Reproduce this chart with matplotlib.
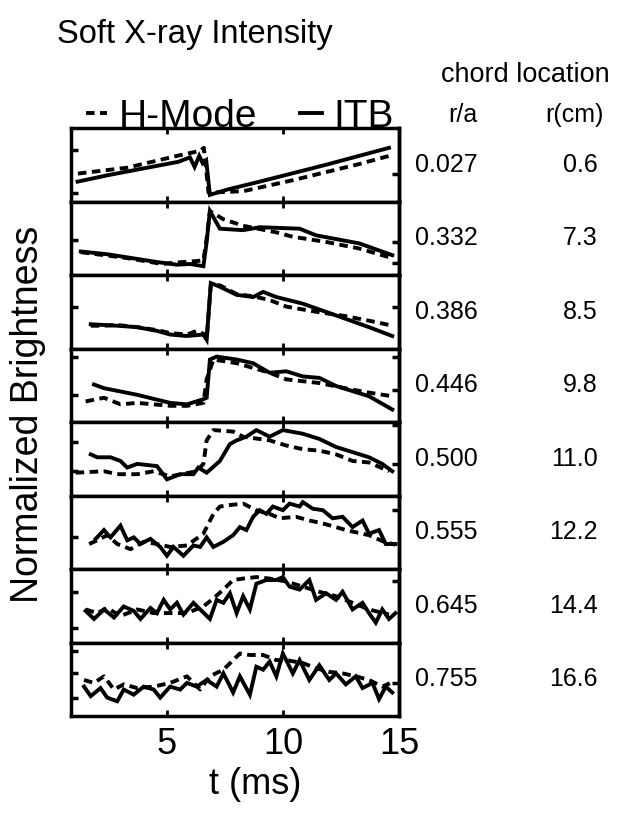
import matplotlib
matplotlib.use("Agg")
import matplotlib.pyplot as plt
from matplotlib import transforms
from matplotlib.lines import Line2D

plt.rcParams['font.family'] = ['Liberation Sans', 'DejaVu Sans']

# chord positions
r_over_a = [0.027, 0.332, 0.386, 0.446, 0.500, 0.555, 0.645, 0.755]
r_cm = [0.6, 7.3, 8.5, 9.8, 11.0, 12.2, 14.4, 16.6]

# normalized brightness per chord, H-mode (dashed) and ITB (solid)
t1_h = [1.18, 3.3, 5.44, 6.44, 6.6, 6.8, 8.29, 10.43, 13.29, 14.57]
b1_h = [0.38, 0.46, 0.62, 0.69, 0.73, 0.12, 0.14, 0.29, 0.51, 0.62]
t1_i = [1.16, 2.5, 4.0, 5.5, 6.0, 6.2, 6.4, 6.55, 6.7, 6.86, 7.58, 9.0, 11.86, 14.57]
b1_i = [0.27, 0.36, 0.45, 0.54, 0.60, 0.47, 0.62, 0.52, 0.56, 0.09, 0.16, 0.27, 0.50, 0.73]

t2_h = [1.30, 3.30, 4.8, 5.44, 6.29, 6.58, 6.72, 6.86, 7.43, 8.29, 9.72, 10.43, 11.86, 13.29, 14.71]
b2_h = [0.31, 0.23, 0.15, 0.17, 0.19, 0.20, 0.50, 0.87, 0.76, 0.67, 0.58, 0.52, 0.45, 0.36, 0.23]
t2_i = [1.30, 2.5, 3.30, 4.5, 5.44, 6.0, 6.58, 6.72, 6.86, 7.29, 8.29, 9.01, 10.72, 11.43, 13.29, 14.71]
b2_i = [0.32, 0.28, 0.24, 0.18, 0.14, 0.15, 0.12, 0.45, 0.87, 0.63, 0.61, 0.65, 0.63, 0.54, 0.43, 0.27]

t3_h = [1.73, 2.30, 2.87, 3.73, 4.58, 5.15, 5.87, 6.29, 6.58, 6.72, 6.90, 7.29, 8.01, 8.72, 9.43, 10.15, 11.43, 12.71, 14.0, 14.71]
b3_h = [0.31, 0.31, 0.32, 0.29, 0.25, 0.21, 0.19, 0.24, 0.20, 0.13, 0.87, 0.86, 0.74, 0.71, 0.66, 0.57, 0.50, 0.44, 0.36, 0.31]
t3_i = [1.73, 2.30, 2.87, 3.73, 4.58, 5.15, 5.87, 6.58, 6.72, 6.90, 7.29, 8.01, 8.72, 9.15, 9.72, 10.86, 12.29, 13.71, 14.71]
b3_i = [0.33, 0.32, 0.31, 0.29, 0.24, 0.19, 0.17, 0.19, 0.12, 0.89, 0.84, 0.73, 0.70, 0.77, 0.70, 0.61, 0.45, 0.29, 0.17]

t4_h = [1.51, 2.30, 3.01, 3.73, 5.15, 5.87, 6.58, 6.72, 7.01, 8.01, 9.43, 10.15, 11.57, 13.0, 13.71, 14.71]
b4_h = [0.28, 0.33, 0.24, 0.26, 0.22, 0.22, 0.26, 0.58, 0.85, 0.80, 0.67, 0.58, 0.53, 0.44, 0.40, 0.35]
t4_i = [1.87, 2.30, 3.73, 5.15, 5.87, 6.58, 6.72, 6.86, 7.15, 8.01, 8.72, 9.43, 10.15, 10.86, 11.57, 12.29, 13.71, 14.71]
b4_i = [0.51, 0.46, 0.37, 0.26, 0.24, 0.31, 0.33, 0.85, 0.89, 0.85, 0.80, 0.67, 0.69, 0.62, 0.60, 0.49, 0.35, 0.17]

t5_h = [1.08, 2.30, 2.87, 3.73, 4.44, 5.15, 6.29, 6.58, 6.72, 7.01, 7.86, 8.29, 9.43, 10.15, 10.86, 11.57, 12.29, 13.0, 13.71, 14.57]
b5_h = [0.31, 0.33, 0.29, 0.29, 0.33, 0.26, 0.33, 0.43, 0.75, 0.89, 0.87, 0.80, 0.75, 0.68, 0.63, 0.61, 0.56, 0.47, 0.45, 0.33]
t5_i = [1.73, 2.01, 2.58, 3.01, 3.30, 3.73, 4.58, 5.01, 5.58, 6.15, 6.36, 6.72, 7.29, 7.72, 8.01, 8.43, 8.86,
        9.43, 10.0, 10.86, 11.57, 12.29, 13.0, 13.71, 14.28, 14.71]
b5_i = [0.56, 0.52, 0.52, 0.47, 0.38, 0.43, 0.40, 0.22, 0.29, 0.29, 0.38, 0.31, 0.47, 0.70, 0.75, 0.80, 0.89,
        0.80, 0.89, 0.84, 0.77, 0.66, 0.59, 0.52, 0.43, 0.33]

t6_h = [1.66, 2.01, 2.44, 2.87, 3.44, 4.01, 4.58, 5.15, 5.87, 6.58, 7.01, 7.29, 7.72, 8.29, 8.86, 9.43, 9.86,
        10.57, 11.14, 11.72, 12.29, 12.71, 13.14, 13.71, 14.28, 14.85]
b6_h = [0.34, 0.39, 0.46, 0.34, 0.27, 0.37, 0.34, 0.30, 0.32, 0.48, 0.75, 0.85, 0.87, 0.89, 0.80, 0.75, 0.69,
        0.71, 0.66, 0.62, 0.57, 0.53, 0.50, 0.46, 0.38, 0.33]
t6_i = [1.94, 2.30, 2.58, 3.01, 3.30, 3.58, 3.87, 4.30, 4.72, 5.01, 5.29, 5.72, 6.15, 6.44, 6.72, 7.01, 7.44,
        7.86, 8.15, 8.43, 8.72, 9.0, 9.29, 9.57, 10.0, 10.29, 10.72, 10.86, 11.29, 11.72, 12.14, 12.57, 13.0,
        13.43, 13.71, 14.14, 14.43, 14.85]
b6_i = [0.41, 0.53, 0.43, 0.59, 0.39, 0.43, 0.34, 0.41, 0.30, 0.18, 0.30, 0.18, 0.32, 0.30, 0.43, 0.30, 0.37,
        0.46, 0.57, 0.53, 0.71, 0.80, 0.75, 0.85, 0.80, 0.89, 0.85, 0.91, 0.82, 0.80, 0.69, 0.71, 0.57,
        0.66, 0.48, 0.53, 0.34, 0.34]

t7_h = [1.51, 2.01, 2.44, 3.01, 3.73, 4.44, 5.15, 5.87, 6.58, 7.01, 7.44, 7.86, 8.29, 8.86, 9.43, 10.15,
        10.86, 11.57, 12.29, 13.0, 13.71, 14.57]
b7_h = [0.45, 0.40, 0.47, 0.36, 0.45, 0.40, 0.40, 0.40, 0.49, 0.60, 0.72, 0.85, 0.87, 0.89, 0.87, 0.83,
        0.76, 0.69, 0.63, 0.54, 0.45, 0.38]
t7_i = [1.51, 1.87, 2.30, 2.73, 3.15, 3.58, 3.87, 4.30, 4.58, 4.87, 5.15, 5.44, 5.72, 6.15, 6.44, 6.86, 7.15,
        7.44, 7.72, 8.01, 8.29, 8.58, 8.86, 9.29, 9.72, 10.0, 10.29, 10.72, 11.14, 11.43, 11.86, 12.29, 12.57,
        13.0, 13.43, 13.71, 14.0, 14.28, 14.57, 14.85]
b7_i = [0.43, 0.32, 0.45, 0.34, 0.49, 0.43, 0.32, 0.47, 0.40, 0.58, 0.45, 0.54, 0.38, 0.54, 0.45, 0.32, 0.58,
        0.54, 0.67, 0.40, 0.63, 0.45, 0.80, 0.85, 0.85, 0.89, 0.76, 0.72, 0.85, 0.58, 0.67, 0.58, 0.69,
        0.45, 0.54, 0.40, 0.27, 0.45, 0.32, 0.40]

t8_h = [1.44, 1.87, 2.30, 2.73, 3.15, 3.73, 4.44, 5.15, 5.87, 6.44, 6.86, 7.44, 7.86, 8.15, 8.58, 9.15, 9.72,
        10.15, 10.86, 11.43, 12.0, 12.57, 13.14, 13.71, 14.28, 14.64]
b8_h = [0.49, 0.45, 0.54, 0.36, 0.43, 0.38, 0.40, 0.45, 0.54, 0.36, 0.54, 0.63, 0.76, 0.85, 0.83, 0.83, 0.76,
        0.76, 0.72, 0.65, 0.60, 0.58, 0.54, 0.49, 0.40, 0.45]
t8_i = [1.44, 1.73, 2.15, 2.44, 2.87, 3.15, 3.58, 4.01, 4.44, 4.72, 5.15, 5.58, 5.87, 6.29, 6.72, 7.15, 7.44,
        7.86, 8.15, 8.58, 8.86, 9.15, 9.43, 9.72, 10.0, 10.43, 10.72, 11.14, 11.57, 12.0, 12.29, 12.71, 13.14,
        13.43, 13.86, 14.14, 14.43, 14.71]
b8_i = [0.40, 0.27, 0.38, 0.25, 0.20, 0.36, 0.29, 0.40, 0.36, 0.25, 0.40, 0.36, 0.45, 0.40, 0.49, 0.40, 0.58,
        0.32, 0.54, 0.29, 0.67, 0.63, 0.74, 0.54, 0.85, 0.58, 0.76, 0.49, 0.69, 0.49, 0.58, 0.43, 0.54,
        0.38, 0.45, 0.23, 0.40, 0.32]

hmode_t = [t1_h, t2_h, t3_h, t4_h, t5_h, t6_h, t7_h, t8_h]
hmode_b = [b1_h, b2_h, b3_h, b4_h, b5_h, b6_h, b7_h, b8_h]
itb_t = [t1_i, t2_i, t3_i, t4_i, t5_i, t6_i, t7_i, t8_i]
itb_b = [b1_i, b2_i, b3_i, b4_i, b5_i, b6_i, b7_i, b8_i]

# tick marks on each panel's own brightness scale
left_ticks = [[0.12, 0.70], [0.47], [0.565], [0.37, 0.89], [0.33, 0.73], [0.43], [0.20, 0.69], [0.25, 0.58, 0.89]]
right_ticks = [[0.38], [0.16, 0.45], [0.565], [0.44, 0.89], [0.43, 0.96], [0.80], [0.83], [0.45]]

W, H = 621, 815
fig, axes = plt.subplots(8, 1, figsize=(W / 100, H / 100), dpi=100, sharex=True)
fig.subplots_adjust(left=71 / W, right=399 / W, top=1 - 128 / H, bottom=1 - 716 / H, hspace=0)

LW = 2.8
DASH = (0, (2.2, 1.4))

for i, ax in enumerate(axes):
    ax.plot(hmode_t[i], hmode_b[i], color='black', lw=LW, ls=DASH)
    ax.plot(itb_t[i], itb_b[i], color='black', lw=LW, solid_joinstyle='miter')
    ax.set_xlim(0.88, 15)
    ax.set_ylim(0, 1)
    ax.set_xticks([5, 10, 15])
    ax.tick_params(axis='x', direction='in', top=True, bottom=True, length=4, width=2,
                   labelbottom=(i == 7), labelsize=26, pad=8)
    ax.set_yticks(left_ticks[i])
    ax.tick_params(axis='y', direction='in', left=True, right=False, length=5, width=2.5, labelleft=False)
    sec = ax.secondary_yaxis('right')
    sec.set_yticks(right_ticks[i])
    sec.tick_params(direction='in', length=5, width=2.5, labelright=False)
    for sp in ax.spines.values():
        sp.set_linewidth(2.5)
    sec.spines['right'].set_linewidth(2.5)

    tr = transforms.blended_transform_factory(fig.transFigure, ax.transAxes)
    ax.text(415 / W, 0.5, f"{r_over_a[i]:.3f}", transform=tr, ha='left', va='center', fontsize=18)
    ax.text(598 / W, 0.5, f"{r_cm[i]:.1f}", transform=tr, ha='right', va='center', fontsize=18)

fig.text(57 / W, 1 - 35 / H, "Soft X-ray Intensity", ha='left', va='center', fontsize=23.5)
fig.text(525 / W, 1 - 75 / H, "chord location", ha='center', va='center', fontsize=19.5)
fig.text(463 / W, 1 - 115 / H, "r/a", ha='center', va='center', fontsize=18)
fig.text(574 / W, 1 - 115 / H, "r(cm)", ha='center', va='center', fontsize=18)
fig.text(28 / W, 1 - 414 / H, "Normalized Brightness", rotation=90, ha='center', va='center', fontsize=27)
fig.text(255 / W, 1 - 785 / H, "t (ms)", ha='center', va='center', fontsize=26)

handles = [Line2D([], [], color='black', lw=LW, ls=DASH), Line2D([], [], color='black', lw=LW)]
fig.legend(handles, ["H-Mode", "ITB"], ncol=2, frameon=False, fontsize=28,
           loc='center left', bbox_to_anchor=(86 / W, 1 - 117 / H), borderpad=0, borderaxespad=0,
           handlelength=0.55, handletextpad=0.3, columnspacing=1.1)

fig.savefig("out.png", dpi=100)
